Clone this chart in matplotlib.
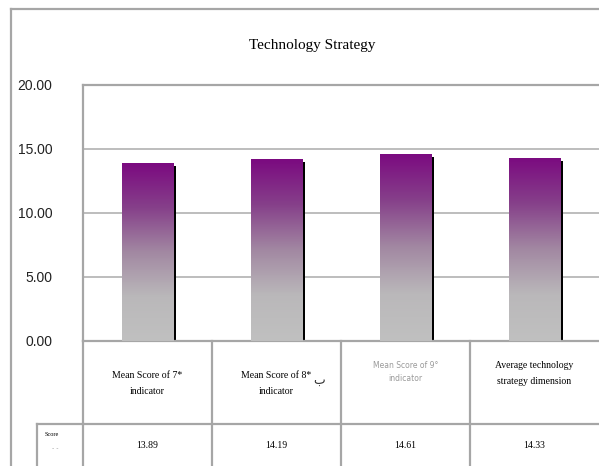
import numpy as np
import matplotlib
matplotlib.use("Agg")
import matplotlib.pyplot as plt
import matplotlib.transforms as mtransforms
from matplotlib.colors import LinearSegmentedColormap
from matplotlib.lines import Line2D

# data
categories = ["Mean Score of 7*\nindicator", "Mean Score of 8*\nindicator",
              "Mean Score of 9°\nindicator", "Average technology\nstrategy dimension"]
values = [13.89, 14.19, 14.61, 14.33]
value_labels = ["13.89", "14.19", "14.61", "14.33"]
yticks = [0, 5, 10, 15, 20]

W, H = 599, 466
fig = plt.figure(figsize=(W / 100, H / 100), dpi=100)
fig.patch.set_facecolor("white")

def fx(px):
    return px / W

def fy(py):
    return 1 - py / H

gray = "#a6a6a6"

ax = fig.add_axes([fx(83), fy(341), fx(599) - fx(83), fy(85) - fy(341)])
ax.set_xlim(-0.5, 3.5)
ax.set_ylim(0, 20)

for s in ["left", "top", "bottom"]:
    ax.spines[s].set_color(gray)
    ax.spines[s].set_linewidth(1.6)
ax.spines["right"].set_visible(False)

ax.set_yticks(yticks)
ax.set_yticklabels([f"{v:.2f}" for v in yticks], fontsize=10,
                   family="Liberation Sans", color="#222222")
ax.tick_params(axis="y", length=0, pad=22)
ax.set_xticks([])
for v in yticks[1:-1]:
    ax.axhline(v, color="#b8b8b8", lw=1.3, zorder=0)

# bars with gradient + shadow
cmap = LinearSegmentedColormap.from_list(
    "pg", ["#c0c0c0", "#bab8ba", "#a288a2", "#86408a", "#7b0a80"])
x = np.arange(len(values))
bw = 0.4
shadow_tr = ax.transData + mtransforms.ScaledTranslation(3 / 100, -3 / 100, fig.dpi_scale_trans)
ax.bar(x, values, width=bw, color="black", transform=shadow_tr, zorder=2)
bars = ax.bar(x, values, width=bw, color="none", edgecolor="none", zorder=3)
grad = np.linspace(0, 1, 256).reshape(-1, 1)
for b in bars:
    x0, y0 = b.get_x(), b.get_y()
    im = ax.imshow(grad, cmap=cmap, origin="lower", aspect="auto",
                   extent=[x0, x0 + b.get_width(), y0, y0 + b.get_height()],
                   zorder=3)
    im.set_clip_path(b)
ax.set_xlim(-0.5, 3.5)
ax.set_ylim(0, 20)

# title
fig.text(fx(312), fy(45), "Technology Strategy", ha="center", va="center",
         fontsize=11, family="Liberation Serif")

# outer frame
fig.add_artist(Line2D([fx(11), fx(11)], [fy(9), fy(466)], color=gray, lw=1.6))
fig.add_artist(Line2D([fx(11), fx(599)], [fy(9), fy(9)], color=gray, lw=1.6))

# table below axis
xt = ax.get_xaxis_transform()
y_bot = (341 - 466) / 256
y_mid = (341 - 424) / 256
for xb in [-0.5, 0.5, 1.5, 2.5]:
    ax.add_line(Line2D([xb, xb], [0, y_bot], transform=xt, color=gray,
                       lw=1.6, clip_on=False))
ax.add_line(Line2D([-0.5, 3.5], [y_mid, y_mid], transform=xt, color=gray,
                   lw=1.6, clip_on=False))
fig.add_artist(Line2D([fx(37), fx(83)], [fy(424), fy(424)], color=gray, lw=1.6))
fig.add_artist(Line2D([fx(37), fx(37)], [fy(424), fy(466)], color=gray, lw=1.6))
fig.text(fx(52), fy(434), "Score", ha="center", va="center", fontsize=4.5,
         family="Liberation Serif")
fig.text(fx(55), fy(448), "- -", ha="center", va="center", fontsize=4.5,
         color="#888888")

header_y = (341 - 383) / 256
for i, lab in enumerate(categories):
    if i == 2:
        ax.text(i, (341 - 372) / 256, lab, transform=xt, ha="center", va="center",
                fontsize=5.5, family="DejaVu Sans", color="#9a9a9a",
                linespacing=1.6)
    elif i == 3:
        ax.text(i, (341 - 373) / 256, lab, transform=xt, ha="center", va="center",
                fontsize=7, family="Liberation Serif", linespacing=2.0)
    else:
        ax.text(i, header_y, lab, transform=xt, ha="center", va="center",
                fontsize=7, family="Liberation Serif", linespacing=2.0)
    ax.text(i, (341 - 445) / 256, value_labels[i], transform=xt, ha="center",
            va="center", fontsize=7, family="Liberation Serif")
ax.text(1.33, (341 - 380) / 256, "ب", transform=xt, ha="center", va="center",
        fontsize=9, family="DejaVu Sans", color="#333333")

fig.savefig("out.png", dpi=100)
